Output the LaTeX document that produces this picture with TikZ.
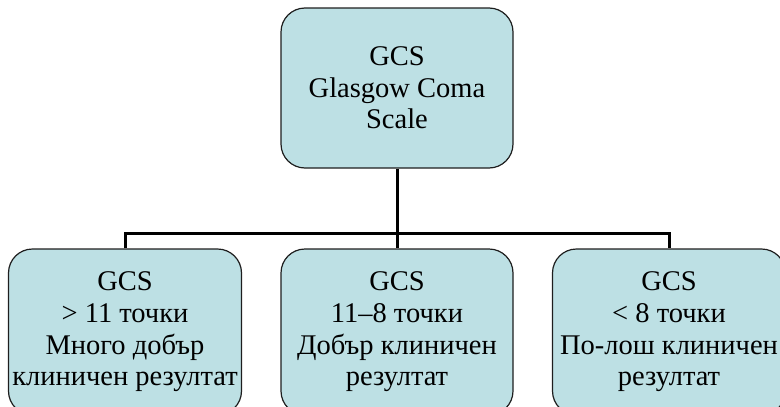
\documentclass[tikz,border=0pt]{standalone}
\usepackage{fontspec}
\setmainfont{Liberation Serif}
\definecolor{boxfill}{RGB}{189,224,228}
\definecolor{boxline}{RGB}{30,30,30}
\tikzset{
  gcsbox/.style={draw=boxline, line width=1.2pt, fill=boxfill, rounded corners=24pt,
    minimum width=232pt, minimum height=160pt, inner sep=0pt, align=center,
    font=\fontsize{28.5}{31.7}\selectfont},
  lowbox/.style={gcsbox, minimum height=166pt}
}
\tikzset{conn/.style={draw=black, line width=3pt}}
\begin{document}
\begin{tikzpicture}[x=1pt,y=1pt]
\useasboundingbox (0,0) rectangle (780,-407);
\node[gcsbox] (top) at (397,-88) {GCS\\Glasgow Coma\\Scale};
\node[lowbox, minimum width=233pt] (left) at (125,-332) {GCS\\> 11 точки\\Много добър\\клиничен резултат};
\node[lowbox] (mid) at (397,-332) {GCS\\11–8 точки\\Добър клиничен\\резултат};
\node[lowbox, minimum width=233pt] (right) at (669,-332) {GCS\\< 8 точки\\По-лош клиничен\\резултат};
\coordinate (bus) at (397,-233);
\draw[conn] (top.south) -- (bus) -- (mid.north);
\draw[conn] (left.north) |- (bus) -| (right.north);
\end{tikzpicture}
\end{document}
